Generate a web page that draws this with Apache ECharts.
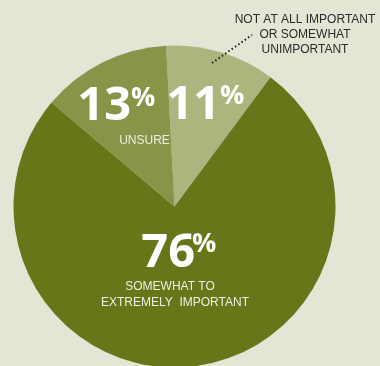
<!DOCTYPE html>
<html><head><meta charset="utf-8">
<script src="https://cdn.jsdelivr.net/npm/echarts@6/dist/echarts.min.js"></script>
<style>html,body{margin:0;padding:0;background:#e3e6d5}#c{width:380px;height:366px}</style>
</head><body><div id="c"></div>
<script>
var categories = ['NOT AT ALL IMPORTANT OR SOMEWHAT UNIMPORTANT', 'SOMEWHAT TO EXTREMELY IMPORTANT', 'UNSURE'];
var values = [11, 76, 13];
var colors = ['#abb57e', '#687519', '#899449'];
var valueLabels = ['11', '76', '13'];

var chart = echarts.init(document.getElementById('c'), null, {renderer: 'canvas'});
var numFont = '"Open Sans", "Liberation Sans", sans-serif';
var smallFont = '"Liberation Sans", Arial, sans-serif';
function num(t, x, y) {
  return {type: 'text', z: 100, x: x, y: y, style: {text: t, fill: '#fff', font: 'bold 47px ' + numFont, textAlign: 'right', textVerticalAlign: 'middle'}};
}
function pct(x, y) {
  return {type: 'text', z: 100, x: x, y: y, style: {text: '%', fill: '#fff', font: 'bold 27px ' + numFont, textAlign: 'left', textVerticalAlign: 'middle'}};
}
function small(t, x, y, col) {
  return {type: 'text', z: 100, x: x, y: y, style: {text: t, fill: col || '#eef0e0', font: '12px ' + smallFont, textAlign: 'center', textVerticalAlign: 'middle'}};
}
chart.setOption({
  backgroundColor: '#e3e6d5',
  animation: false,
  series: [{
    type: 'pie',
    z: 1,
    center: [174.5, 206.5],
    radius: [0, 161],
    startAngle: 93,
    clockwise: true,
    label: {show: false},
    labelLine: {show: false},
    emphasis: {disabled: true},
    itemStyle: {borderWidth: 0},
    data: values.map(function (v, i) { return {name: categories[i], value: v, itemStyle: {color: colors[i]}}; })
  }],
  graphic: [
    num(valueLabels[2], 131, 107), pct(131, 98),
    num(valueLabels[0], 220, 106), pct(220, 96),
    num(valueLabels[1], 195, 254), pct(192, 244),
    small('UNSURE', 144.5, 141),
    small('SOMEWHAT TO', 170, 287),
    small('EXTREMELY  IMPORTANT', 175, 303),
    {type: 'text', z: 100, x: 305, y: 12, style: {text: 'NOT AT ALL IMPORTANT\nOR SOMEWHAT\nUNIMPORTANT', fill: '#2b2b2b', font: '12px ' + smallFont, textAlign: 'center', textVerticalAlign: 'top', lineHeight: 15}},
    {type: 'line', z: 100, shape: {x1: 212, y1: 63, x2: 252, y2: 35}, style: {stroke: '#1e1e1e', lineWidth: 2, lineDash: [1.5, 2.5], lineCap: 'butt'}}
  ]
});
</script></body></html>
